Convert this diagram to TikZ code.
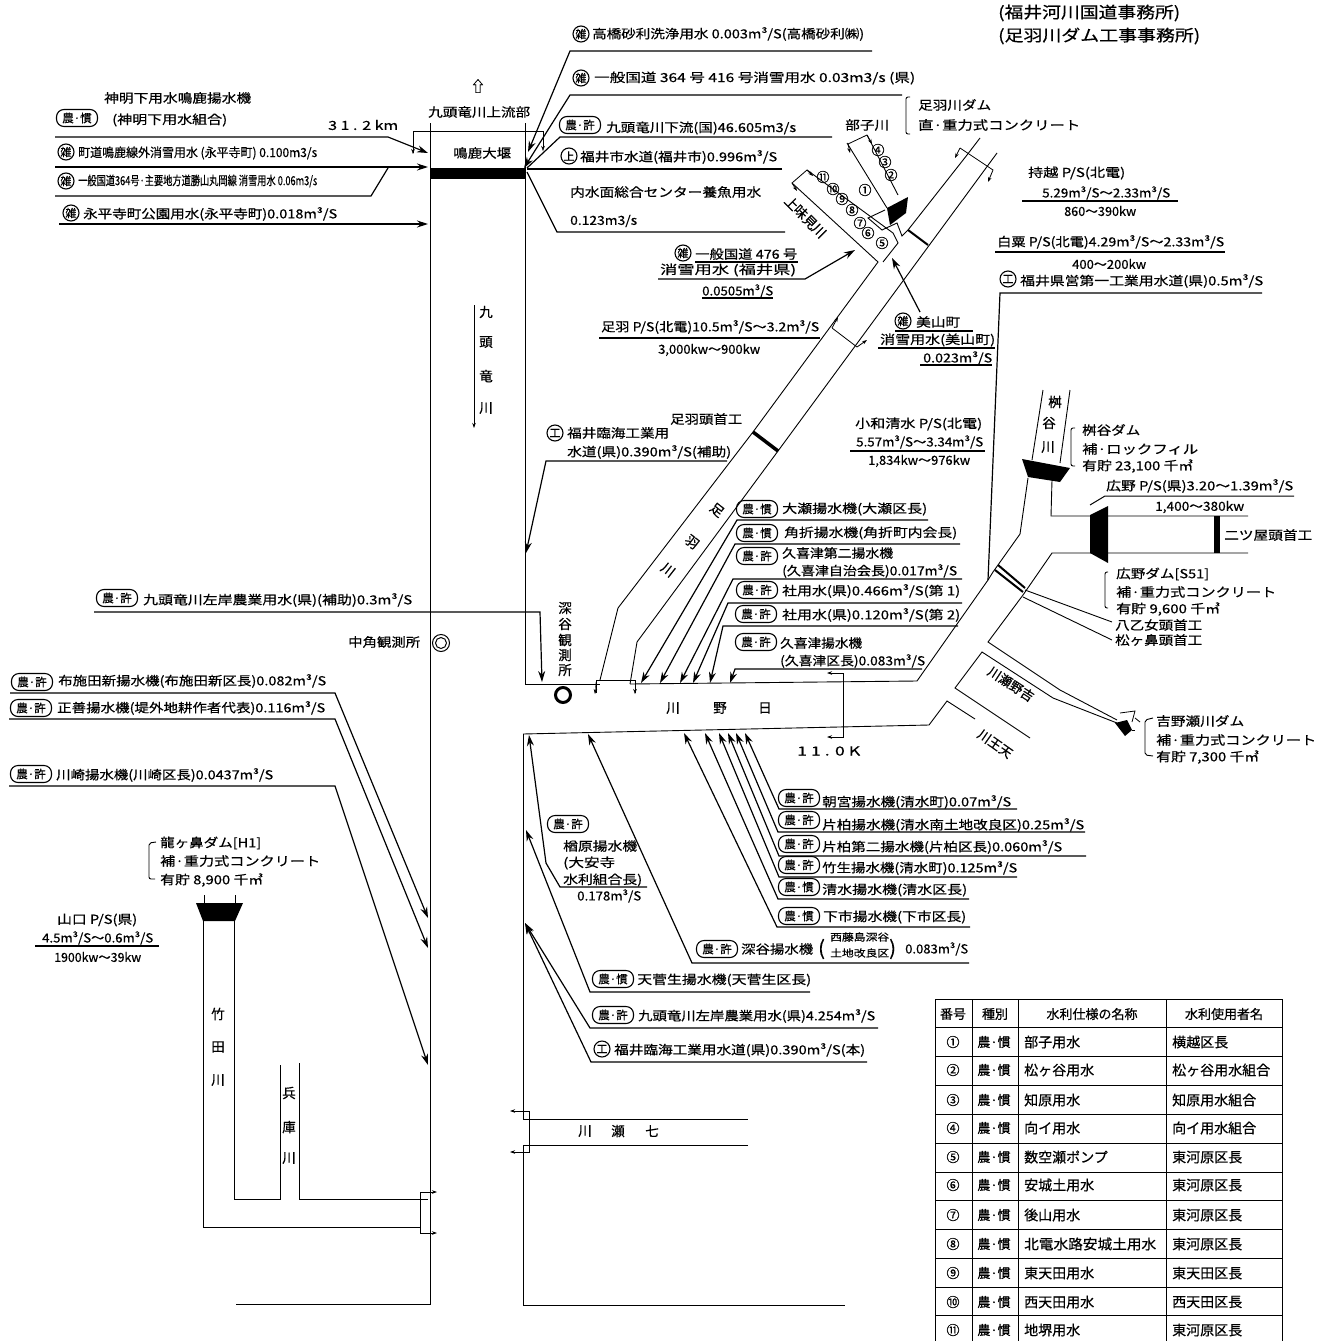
\documentclass[tikz,border=0pt]{standalone}
\usepackage{fontspec}
\usepackage{graphicx}
\setmainfont{Noto Sans CJK JP}[FakeBold=0.5]
\usetikzlibrary{arrows.meta}
\newcommand{\fitw}[2]{\resizebox{#1pt}{\height}{#2}}
\newcommand{\waterrow}[5]{%
  \node[cellc] (num#1) at (953,#2) {#3};
  \node[cellc] (kind#1) at (994,#2) {農·慣};
  \node[cell] (name#1) at (1024,#2) {#4};
  \node[cell] (user#1) at (1172,#2) {#5};}
\tikzset{
  bank/.style={line width=0.9pt},
  leader/.style={line width=1.2pt},
  bigtip/.style={-{Stealth[length=11pt,width=7pt]}},
  hooktip/.style={-{Stealth[length=5pt,width=3.5pt]}},
  lbl/.style={anchor=west,inner sep=0pt,font=\fontsize{12.5}{14}\selectfont},
  vchar/.style={inner sep=0pt,font=\fontsize{13.5}{14}\selectfont},
  tagbox/.style={draw,line width=1.1pt,rounded corners=7.5pt,minimum width=41pt,minimum height=17pt,inner sep=0pt,font=\fontsize{11.5}{12}\selectfont},
  circmark/.style={draw,circle,line width=1.1pt,minimum size=16pt,inner sep=0pt,font=\fontsize{11}{11}\selectfont},
  numchar/.style={inner sep=0pt,font=\fontsize{13}{13}\selectfont},
  cell/.style={anchor=west,inner sep=0pt,font=\fontsize{14}{15}\selectfont},
  cellc/.style={inner sep=0pt,font=\fontsize{13}{15}\selectfont},
  brk/.style={line width=0.9pt,rounded corners=2pt},
}
\begin{document}
\begin{tikzpicture}[x=1pt,y=-1pt]
  \useasboundingbox (0,0) rectangle (1330,1341);

  % Main river
  \draw[bank] (430,123)--(430,1304)--(236,1304);
  \draw[bank] (525,123)--(525,684)--(600,684);
  \draw[bank] (630,684)--(917,681)--(988,580)--(993,572)--(1020,534)--(1028,478);
  \draw[bank] (523,734)--(929,725)--(947,701)--(975,719);
  \draw[bank] (523,734)--(523,1119)--(748,1119);
  \draw[bank] (748,1145)--(523,1145)--(523,1305)--(845,1305);
  \fill (430,168) rectangle (526,179);
  \node[lbl] (narukodam) at (453,153) {\fitw{58}{鳴鹿大堰}};
  \node[lbl] (jouryuubu) at (428,112) {\fitw{102}{九頭竜川上流部}};
  \node[inner sep=0pt,font=\fontsize{15}{15}\selectfont] (uparrow) at (478,86) {⇧};
  \draw[line width=0.8pt] (413,153)--(413,131)--(543,131);
  \draw[hooktip] (413,131)--(413,154);
  \draw[hooktip] (543,131)--(543,151);
  \node[lbl] (kirotop) at (328,125) {\fitw{70}{3 1 . 2 km}};
  \node[vchar] (kuzu1) at (486,312) {九};
  \node[vchar] (kuzu2) at (486,342) {頭};
  \node[vchar] (kuzu3) at (486,376) {竜};
  \node[vchar] (kuzu4) at (486,408) {川};
  \draw[line width=0.7pt,hooktip] (474,305)--(474,428);

  % Left bank upper takes
  \node[lbl] (shinmei) at (104,98) {\fitw{147}{神明下用水鳴鹿揚水機}};
  \node[tagbox] (tagshinmei) at (77,118) {農·慣};
  \node[lbl] (shinmeib) at (112,120) {\fitw{115}{(神明下用水組合)}};
  \draw[leader,bigtip] (55,137)--(388,137)--(428,153);
  \node[circmark] (cchodo) at (66,152) {雑};
  \node[lbl] (chodo) at (78,153) {\fitw{239}{町道鳴鹿線外消雪用水 (永平寺町) 0.100m3/s}};
  \draw[leader,bigtip] (55,167)--(428,167);
  \node[circmark] (ckokudo) at (66,181) {雑};
  \node[lbl] (kokudo) at (78,181) {\fitw{239}{一般国道364号·主要地方道勝山丸岡線 消雪用水 0.06m3/s}};
  \draw[leader] (55,196)--(371,196)--(388,168);
  \node[circmark] (ceihei) at (71,213) {雑};
  \node[lbl] (eihei) at (83,214) {\fitw{254}{永平寺町公園用水(永平寺町)0.018m³/S}};
  \draw[leader,bigtip] (59,224)--(428,224);

  % Right bank upper takes
  \node[circmark] (ctaka) at (581,34) {雑};
  \node[lbl] (taka) at (592,34) {\fitw{272}{高橋砂利洗浄用水 0.003m³/S(高橋砂利㈱)}};
  \draw[leader,bigtip] (872,51)--(570,51)--(528,152);
  \node[circmark] (cippan) at (581,78) {雑};
  \node[lbl] (ippan) at (594,78) {\fitw{321}{一般国道 364 号 416 号消雪用水 0.03m3/s (県)}};
  \draw[leader,bigtip] (902,95)--(570,95)--(524,168);
  \node[tagbox] (tagkaryu) at (580,125) {農·許};
  \node[lbl] (karyu) at (606,128) {\fitw{190}{九頭竜川下流(国)46.605m3/s}};
  \draw[leader] (832,137)--(560,137)--(527,168);
  \node[circmark] (cfukui) at (569,156) {上};
  \node[lbl] (fukui) at (580,157) {\fitw{197}{福井市水道(福井市)0.996m³/S}};
  \draw[leader] (782,169)--(527,169);
  \node[lbl] (naisui) at (570,192) {\fitw{191}{内水面総合センター養魚用水}};
  \node[lbl] (naisuib) at (570,221) {\fitw{67}{0.123m3/s}};
  \draw[leader] (527,172)--(557,232)--(785,232);

  % Upper tributaries
  \draw[bank] (847,143)--(887,208);
  \draw[bank] (867,135)--(898,195);
  \fill (887,208)--(908,197)--(906,213)--(890,225)--cycle;
  \draw[bank] (885,210)--(868,218)--(882,230)--(897,223)--(902,236)--(908,230);
  \draw[line width=2pt] (908,230)--(928,245);
  \draw[bank] (807,170)--(893,233)--(898,243)--(883,262);
  \draw[bank] (792,183)--(878,262)--(753,432);
  \draw[bank] (908,230)--(967,155)--(980,138);
  \draw[bank] (778,451)--(997,153);
  \draw[line width=3.5pt] (753,432)--(778,451);
  \draw[bank] (753,432)--(618,608)--(600,680);
  \draw[bank] (778,451)--(637,642)--(630,684);
  \draw[line width=0.8pt,hooktip] (867,135)--(848,144)--(850,153);
  \draw[line width=0.8pt,hooktip] (867,135)--(872,144);
  \draw[line width=0.8pt,hooktip] (807,170)--(792,183)--(797,191);
  \draw[line width=0.8pt,hooktip] (807,170)--(813,176);
  \draw[line width=0.8pt,hooktip] (960,148)--(955,158);
  \draw[line width=0.8pt,hooktip] (960,148)--(993,170)--(988,182);
  \draw[line width=0.8pt,hooktip] (832,328)--(838,317);
  \draw[line width=0.8pt,hooktip] (832,328)--(857,347)--(867,340);
  \node[lbl] (heko) at (845,125) {\fitw{44}{部子川}};
  \node[vchar,rotate=-45] (ajimi1) at (792,203) {上};
  \node[vchar,rotate=-45] (ajimi2) at (801,212) {味};
  \node[vchar,rotate=-45] (ajimi3) at (810,222) {見};
  \node[vchar,rotate=-45] (ajimi4) at (819,231) {川};
  \node[numchar] (n1) at (865,190) {①};
  \node[numchar] (n2) at (891,175) {②};
  \node[numchar] (n3) at (885,162) {③};
  \node[numchar] (n4) at (878,150) {④};
  \node[numchar] (n5) at (882,243) {⑤};
  \node[numchar] (n6) at (868,233) {⑥};
  \node[numchar] (n7) at (860,223) {⑦};
  \node[numchar] (n8) at (852,210) {⑧};
  \node[numchar] (n9) at (842,199) {⑨};
  \node[numchar] (n10) at (833,189) {⑩};
  \node[numchar] (n11) at (823,177) {⑪};
  \draw[brk] (910,97)--(906,97)--(906,134)--(910,134);
  \node[lbl] (asuwadam) at (918,105) {\fitw{73}{足羽川ダム}};
  \node[lbl] (asuwadamb) at (918,125) {\fitw{162}{直·重力式コンクリート}};

  % Power stations on the right
  \node[lbl] (mochi) at (1028,173) {\fitw{97}{持越 P/S(北電)}};
  \node[lbl] (mochib) at (1042,193) {\fitw{128}{5.29m³/S〜2.33m³/S}};
  \draw[leader] (1022,201)--(1178,201);
  \node[lbl] (mochic) at (1064,211) {\fitw{72}{860〜390kw}};
  \node[lbl] (hakuri) at (997,242) {\fitw{227}{白粟 P/S(北電)4.29m³/S〜2.33m³/S}};
  \draw[leader] (995,252)--(1225,252);
  \node[lbl] (hakurib) at (1072,264) {\fitw{74}{400〜200kw}};
  \node[circmark] (ckenei) at (1008,279) {工};
  \node[lbl] (kenei) at (1020,281) {\fitw{243}{福井県営第一工業用水道(県)0.5m³/S}};
  \draw[leader] (1262,293)--(1000,293)--(988,580);
  \node[lbl,font=\fontsize{16}{17}\selectfont] (office1) at (998,13) {\fitw{182}{(福井河川国道事務所)}};
  \node[lbl,font=\fontsize{16}{17}\selectfont] (office2) at (998,36) {\fitw{202}{(足羽川ダム工事事務所)}};

  % Asuwa river labels
  \node[circmark] (c476) at (683,253) {雑};
  \node[lbl] (k476) at (695,254) {\fitw{102}{一般国道 476 号}};
  \draw[leader] (695,262)--(798,262);
  \node[lbl] (k476b) at (660,270) {\fitw{136}{消雪用水 (福井県)}};
  \draw[leader,bigtip] (658,279)--(805,279)--(855,250);
  \node[lbl] (k476c) at (702,291) {\fitw{71}{0.0505m³/S}};
  \draw[leader] (702,298)--(773,298);
  \node[circmark] (cmiyama) at (903,321) {雑};
  \node[lbl] (miyama) at (916,322) {\fitw{44}{美山町}};
  \draw[leader] (895,331)--(973,331);
  \node[lbl] (miyamab) at (880,340) {\fitw{115}{消雪用水(美山町)}};
  \draw[leader] (878,348)--(995,348);
  \node[lbl] (miyamac) at (923,358) {\fitw{69}{0.023m³/S}};
  \draw[leader] (920,365)--(992,365);
  \draw[leader,bigtip] (920,312)--(892,258);
  \node[lbl] (asuwaps) at (601,327) {\fitw{218}{足羽 P/S(北電)10.5m³/S〜3.2m³/S}};
  \draw[leader] (599,338)--(820,338);
  \node[lbl] (asuwapsb) at (658,350) {\fitw{102}{3,000kw〜900kw}};
  \node[lbl] (asuwahead) at (670,419) {\fitw{72}{足羽頭首工}};
  \node[circmark] (crinkai) at (555,433) {工};
  \node[lbl] (rinkai) at (567,433) {\fitw{102}{福井臨海工業用}};
  \node[lbl] (rinkaib) at (567,452) {\fitw{164}{水道(県)0.390m³/S(補助)}};
  \draw[leader,bigtip] (727,461)--(546,461)--(526,553);
  \node[vchar,rotate=-38] (asuwa1) at (717,510) {足};
  \node[vchar,rotate=-38] (asuwa2) at (692,542) {羽};
  \node[vchar,rotate=-38] (asuwa3) at (668,570) {川};
  \node[lbl] (kowa) at (855,424) {\fitw{127}{小和清水 P/S(北電)}};
  \node[lbl] (kowab) at (856,442) {\fitw{127}{5.57m³/S〜3.34m³/S}};
  \draw[leader] (850,451)--(985,451);
  \node[lbl] (kowac) at (868,461) {\fitw{102}{1,834kw〜976kw}};

  % Upper Hino takes
  \node[tagbox] (tagose) at (757,509) {農·慣};
  \node[lbl] (ose) at (782,509) {\fitw{145}{大瀬揚水機(大瀬区長)}};
  \draw[leader,bigtip] (928,520)--(737,520)--(641,683);
  \node[tagbox] (tagkado) at (757,533) {農·慣};
  \node[lbl] (kado) at (784,533) {\fitw{173}{角折揚水機(角折町内会長)}};
  \draw[leader,bigtip] (960,544)--(735,544)--(660,683);
  \node[tagbox] (tagkuki2) at (757,556) {農·許};
  \node[lbl] (kuki2) at (782,553) {\fitw{111}{久喜津第二揚水機}};
  \node[lbl] (kuki2b) at (782,571) {\fitw{175}{(久喜津自治会長)0.017m³/S}};
  \draw[leader,bigtip] (962,579)--(733,579)--(680,683);
  \node[tagbox] (tagsha1) at (757,590) {農·許};
  \node[lbl] (sha1) at (782,591) {\fitw{178}{社用水(県)0.466m³/S(第 1)}};
  \draw[leader,bigtip] (962,603)--(728,603)--(693,683);
  \node[tagbox] (tagsha2) at (756,614) {農·許};
  \node[lbl] (sha2) at (782,615) {\fitw{178}{社用水(県)0.120m³/S(第 2)}};
  \draw[leader,bigtip] (958,626)--(723,626)--(710,683);
  \node[tagbox] (tagkuki) at (756,642) {農·許};
  \node[lbl] (kuki) at (780,643) {\fitw{82}{久喜津揚水機}};
  \node[lbl] (kukib) at (780,661) {\fitw{145}{(久喜津区長)0.083m³/S}};
  \draw[leader,bigtip] (922,669)--(735,669)--(730,683);

  % Hino river
  \node[vchar] (hino1) at (673,708) {川};
  \node[vchar] (hino2) at (720,708) {野};
  \node[vchar] (hino3) at (765,708) {日};
  \draw[line width=0.8pt] (596,693)--(596,680)--(635,680)--(635,693);
  \draw[hooktip] (596,682)--(595,694);
  \draw[hooktip] (635,682)--(635,694);
  \draw[line width=0.8pt,hooktip] (843,673)--(827,673);
  \draw[line width=0.8pt,hooktip] (843,673)--(843,737)--(827,737);
  \node[lbl] (kiro11) at (797,751) {\fitw{63}{1 1 . 0 K}};
  \node[vchar] (fuka1) at (565,608) {深};
  \node[vchar] (fuka2) at (565,624) {谷};
  \node[vchar] (fuka3) at (565,640) {観};
  \node[vchar] (fuka4) at (565,655) {測};
  \node[vchar] (fuka5) at (565,670) {所};
  \draw[line width=3pt] (563,695) circle (7.5);
  \node[lbl] (nakatsuno) at (348,642) {\fitw{72}{中角観測所}};
  \draw[line width=1pt] (441,643) circle (8.5);
  \draw[line width=1pt] (441,643) circle (5.5);

  % Eastern reservoirs
  \draw[bank] (1043,390)--(1032,460);
  \draw[bank] (1070,390)--(1060,463);
  \fill (1022,459)--(1070,468)--(1060,482)--(1028,477)--cycle;
  \draw[bank] (1052,480)--(1051,516)--(1248,516);
  \draw[bank] (1248,553)--(1052,553)--(1023,595)--(988,642)--(1060,690)--(1117,720);
  \fill (1090,515)--(1108,506)--(1108,563)--(1090,553)--cycle;
  \draw[line width=6pt] (1217,516)--(1217,553);
  \draw[line width=2pt] (995,570)--(1023,592);
  \draw[line width=2pt] (998,565)--(1025,588);
  \draw[bank] (1025,590)--(1112,622);
  \draw[bank] (1023,597)--(1112,640);
  \draw[bank] (1030,738)--(955,688)--(982,652)--(1053,698)--(1117,723);
  \fill (1115,723)--(1127,720)--(1132,730)--(1125,736)--cycle;
  \draw[line width=0.8pt] (1120,713)--(1135,711)--(1132,722);
  \draw[line width=0.8pt] (1135,718)--(1140,722);
  \draw[line width=0.8pt] (1132,730)--(1135,730);
  \node[vchar] (masu1) at (1055,402) {桝};
  \node[vchar] (masu2) at (1049,423) {谷};
  \node[vchar] (masu3) at (1048,447) {川};
  \draw[brk] (1075,428)--(1071,428)--(1071,466)--(1075,466);
  \node[lbl] (masudam) at (1082,430) {\fitw{58}{桝谷ダム}};
  \node[lbl] (masudamb) at (1082,449) {\fitw{116}{補·ロックフィル}};
  \node[lbl] (masudamc) at (1082,466) {\fitw{111}{有貯 23,100 千㎥}};
  \node[lbl] (hirops) at (1106,486) {\fitw{187}{広野 P/S(県)3.20〜1.39m³/S}};
  \draw[line width=1pt] (1090,505)--(1105,496)--(1294,496);
  \node[lbl] (hiropsb) at (1155,507) {\fitw{89}{1,400〜380kw}};
  \node[lbl] (futatsuya) at (1224,535) {\fitw{88}{二ツ屋頭首工}};
  \draw[brk] (1108,572)--(1105,572)--(1105,608)--(1108,608);
  \node[lbl] (hirodam) at (1116,574) {\fitw{93}{広野ダム[S51]}};
  \node[lbl] (hirodamb) at (1116,592) {\fitw{160}{補·重力式コンクリート}};
  \node[lbl] (hirodamc) at (1116,609) {\fitw{104}{有貯 9,600 千㎥}};
  \node[lbl] (yaotome) at (1115,625) {\fitw{87}{八乙女頭首工}};
  \node[lbl] (matsu) at (1115,640) {\fitw{87}{松ヶ鼻頭首工}};
  \node[inner sep=0pt,rotate=-33,font=\fontsize{13}{14}\selectfont] (kichino) at (1011,684) {川瀬野吉};
  \node[inner sep=0pt,rotate=-35,font=\fontsize{13}{14}\selectfont] (tenno) at (995,744) {川王天};
  \draw[brk] (1153,718)--(1145,720)--(1145,755)--(1153,756);
  \node[lbl] (yoshidam) at (1156,721) {\fitw{88}{吉野瀬川ダム}};
  \node[lbl] (yoshidamb) at (1156,740) {\fitw{160}{補·重力式コンクリート}};
  \node[lbl] (yoshidamc) at (1156,757) {\fitw{103}{有貯 7,300 千㎥}};

  % Lower Hino takes
  \node[tagbox] (tagasa) at (799,798) {農·許};
  \node[lbl] (asa) at (822,802) {\fitw{189}{朝宮揚水機(清水町)0.07m³/S}};
  \draw[leader,bigtip] (1017,809)--(779,809)--(745,733);
  \node[tagbox] (tagkata) at (799,820) {農·許};
  \node[lbl] (kata) at (822,825) {\fitw{262}{片柏揚水機(清水南土地改良区)0.25m³/S}};
  \draw[leader,bigtip] (1085,832)--(778,832)--(736,733);
  \node[tagbox] (tagkata2) at (799,844) {農·許};
  \node[lbl] (kata2) at (822,847) {\fitw{240}{片柏第二揚水機(片柏区長)0.060m³/S}};
  \draw[leader,bigtip] (1086,856)--(779,856)--(728,733);
  \node[tagbox] (tagtake) at (799,865) {農·許};
  \node[lbl] (take) at (822,868) {\fitw{195}{竹生揚水機(清水町)0.125m³/S}};
  \draw[leader,bigtip] (1017,877)--(779,877)--(719,733);
  \node[tagbox] (tagshimizu) at (799,887) {農·慣};
  \node[lbl] (shimizu) at (822,890) {\fitw{145}{清水揚水機(清水区長)}};
  \draw[leader,bigtip] (969,899)--(778,899)--(705,733);
  \node[tagbox] (tagshimo) at (799,916) {農·慣};
  \node[lbl] (shimo) at (823,917) {\fitw{143}{下市揚水機(下市区長)}};
  \draw[leader,bigtip] (970,927)--(777,927)--(684,733);
  \node[tagbox] (tagfuka) at (717,949) {農·許};
  \node[lbl] (fuka) at (741,949) {\fitw{72}{深谷揚水機}};
  \node[lbl,font=\fontsize{20}{20}\selectfont] (fukaopen) at (818,949) {(};
  \node[lbl,font=\fontsize{10}{11}\selectfont] (fukasub) at (830,937) {\fitw{59}{西藤島深谷}};
  \node[lbl,font=\fontsize{10}{11}\selectfont] (fukasubb) at (830,953) {\fitw{59}{土地改良区}};
  \node[lbl,font=\fontsize{20}{20}\selectfont] (fukaclose) at (889,949) {)};
  \node[lbl] (fukab) at (905,949) {\fitw{63}{0.083m³/S}};
  \draw[leader,bigtip] (969,963)--(692,963)--(588,734);
  \node[tagbox] (tagamasu) at (613,979) {農·慣};
  \node[lbl] (amasu) at (637,980) {\fitw{174}{天菅生揚水機(天菅生区長)}};
  \draw[leader,bigtip] (810,992)--(590,992)--(526,830);
  \node[tagbox] (tagsagan) at (613,1015) {農·許};
  \node[lbl] (sagan) at (638,1016) {\fitw{237}{九頭竜川左岸農業用水(県)4.254m³/S}};
  \draw[leader,bigtip] (878,1028)--(590,1028)--(525,923);
  \node[circmark] (crinkai2) at (602,1049) {工};
  \node[lbl] (rinkai2) at (614,1050) {\fitw{251}{福井臨海工業用水道(県)0.390m³/S(本)}};
  \draw[leader,bigtip] (867,1062)--(591,1062)--(525,923);
  \node[tagbox] (tagnara) at (568,824) {農·許};
  \node[lbl] (nara) at (563,846) {\fitw{74}{楢原揚水機}};
  \node[lbl] (narab) at (563,863) {\fitw{52}{(大安寺}};
  \node[lbl] (narac) at (563,880) {\fitw{79}{水利組合長)}};
  \node[lbl] (narad) at (577,896) {\fitw{64}{0.178m³/S}};
  \draw[leader,bigtip] (647,887)--(560,887)--(546,863)--(529,735);

  % Left bank lower takes
  \node[tagbox] (tagsahoryu) at (117,598) {農·許};
  \node[lbl] (sahoryu) at (143,600) {\fitw{269}{九頭竜川左岸農業用水(県)(補助)0.3m³/S}};
  \draw[leader,bigtip] (94,612)--(540,612)--(542,682);
  \node[tagbox] (tagfuse) at (32,682) {農·許};
  \node[lbl] (fuse) at (58,681) {\fitw{268}{布施田新揚水機(布施田新区長)0.082m³/S}};
  \draw[leader,bigtip] (10,693)--(335,693)--(428,918);
  \node[tagbox] (tagshozen) at (31,708) {農·許};
  \node[lbl] (shozen) at (57,708) {\fitw{268}{正善揚水機(堤外地耕作者代表)0.116m³/S}};
  \draw[leader,bigtip] (9,719)--(335,719)--(428,948);
  \node[tagbox] (tagkawa) at (31,774) {農·許};
  \node[lbl] (kawa) at (56,775) {\fitw{217}{川崎揚水機(川崎区長)0.0437m³/S}};
  \draw[leader,bigtip] (9,786)--(335,786)--(428,1065);

  % Western reservoir
  \fill (196,903)--(243,903)--(235,921)--(203,921)--cycle;
  \draw[bank] (204,895)--(204,903);
  \draw[bank] (235,895)--(235,903);
  \draw[bank] (203,921)--(203,1227)--(420,1227);
  \draw[bank] (234,921)--(234,1199)--(280,1199)--(280,1065);
  \draw[bank] (299,1063)--(299,1199)--(428,1199);
  \draw[line width=0.8pt,hooktip] (420,1199)--(420,1192)--(437,1192);
  \draw[line width=0.8pt,hooktip] (420,1199)--(420,1233)--(437,1233);
  \draw[line width=0.8pt,hooktip] (529,1145)--(529,1111)--(510,1111);
  \draw[line width=0.8pt,hooktip] (529,1145)--(529,1152)--(510,1152);
  \draw[brk] (156,842)--(149,843)--(149,879)--(155,879);
  \node[lbl] (tatsudam) at (160,843) {\fitw{101}{龍ヶ鼻ダム[H1]}};
  \node[lbl] (tatsudamb) at (160,861) {\fitw{160}{補·重力式コンクリート}};
  \node[lbl] (tatsudamc) at (160,880) {\fitw{103}{有貯 8,900 千㎥}};
  \node[lbl] (yamaps) at (57,920) {\fitw{80}{山口 P/S(県)}};
  \node[lbl] (yamapsb) at (42,938) {\fitw{111}{4.5m³/S〜0.6m³/S}};
  \draw[leader] (35,946)--(159,946);
  \node[lbl] (yamapsc) at (54,957) {\fitw{87}{1900kw〜39kw}};
  \node[vchar] (taketa1) at (218,1014) {竹};
  \node[vchar] (taketa2) at (218,1047) {田};
  \node[vchar] (taketa3) at (218,1080) {川};
  \node[vchar] (hyogo1) at (289,1093) {兵};
  \node[vchar] (hyogo2) at (289,1127) {庫};
  \node[vchar] (hyogo3) at (289,1158) {川};
  \node[vchar] (nana1) at (585,1131) {川};
  \node[vchar] (nana2) at (618,1131) {瀬};
  \node[vchar] (nana3) at (652,1131) {七};

  % Table of water rights
  \draw[line width=1pt] (935,1341)--(935,999)--(1282,999)--(1282,1341);
  \draw[line width=1pt] (972,999)--(972,1341);
  \draw[line width=1pt] (1018,999)--(1018,1341);
  \draw[line width=1pt] (1166,999)--(1166,1341);
  \draw[line width=1pt] (935,1027)--(1282,1027);
  \draw[line width=1pt] (935,1056)--(1282,1056);
  \draw[line width=1pt] (935,1085)--(1282,1085);
  \draw[line width=1pt] (935,1114)--(1282,1114);
  \draw[line width=1pt] (935,1143)--(1282,1143);
  \draw[line width=1pt] (935,1172)--(1282,1172);
  \draw[line width=1pt] (935,1200)--(1282,1200);
  \draw[line width=1pt] (935,1229)--(1282,1229);
  \draw[line width=1pt] (935,1258)--(1282,1258);
  \draw[line width=1pt] (935,1287)--(1282,1287);
  \draw[line width=1pt] (935,1315)--(1282,1315);
  \node[cellc] (headnum) at (953,1014) {番号};
  \node[cellc] (headkind) at (995,1014) {種別};
  \node[cellc] (headname) at (1092,1014) {水利仕様の名称};
  \node[cellc] (headuser) at (1224,1014) {水利使用者名};
  \waterrow{a}{1042}{①}{部子用水}{横越区長}
  \waterrow{b}{1070}{②}{松ヶ谷用水}{松ヶ谷用水組合}
  \waterrow{c}{1100}{③}{知原用水}{知原用水組合}
  \waterrow{d}{1128}{④}{向イ用水}{向イ用水組合}
  \waterrow{e}{1157}{⑤}{数空瀬ポンプ}{東河原区長}
  \waterrow{f}{1185}{⑥}{安城土用水}{東河原区長}
  \waterrow{g}{1215}{⑦}{後山用水}{東河原区長}
  \waterrow{h}{1244}{⑧}{\fitw{132}{北電水路安城土用水}}{東河原区長}
  \waterrow{i}{1273}{⑨}{東天田用水}{東天田区長}
  \waterrow{j}{1302}{⑩}{西天田用水}{西天田区長}
  \waterrow{k}{1330}{⑪}{地堺用水}{東河原区長}
\end{tikzpicture}
\end{document}
